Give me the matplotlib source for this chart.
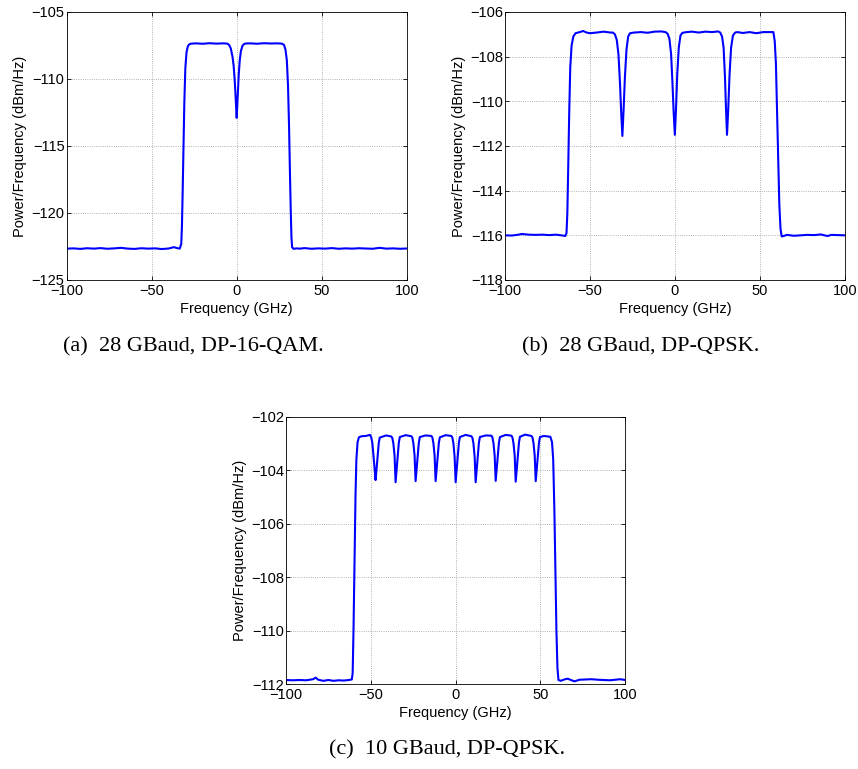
import numpy as np
import matplotlib as mpl
import matplotlib.pyplot as plt

BLUE = "#0000ff"

# (a) 28 GBaud, DP-16-QAM
freq_a = [-100, -96, -92, -88, -84, -80, -76, -72, -68, -64, -60, -56, -52, -48, -44,
          -40, -37, -35, -33.5, -32.6, -32.2, -31.8, -31.3, -30.8, -30.2, -29.5, -28.7,
          -27.8, -26.5, -24, -20, -16, -12, -8, -5.5, -4.5, -3.5, -2.5, -1.8, -1.2, -0.6,
          0, 0.6, 1.2, 1.8, 2.5, 3.5, 4.5, 5.5, 8, 12, 16, 20, 24, 26.5, 27.8, 28.7, 29.5,
          30.2, 30.8, 31.3, 31.8, 32.2, 32.6, 33.5, 35, 37, 40, 44, 48, 52, 56, 60, 64,
          68, 72, 76, 80, 84, 88, 92, 96, 100]
psd_a = [-122.66, -122.64, -122.68, -122.63, -122.66, -122.62, -122.67, -122.64, -122.60,
         -122.66, -122.68, -122.63, -122.66, -122.64, -122.69, -122.65, -122.55, -122.62,
         -122.66, -122.30, -121.00, -118.60, -115.20, -111.80, -109.20, -108.00, -107.55,
         -107.40, -107.36, -107.34, -107.37, -107.33, -107.36, -107.34, -107.36, -107.45,
         -107.70, -108.30, -109.00, -110.00, -111.40, -112.90, -111.30, -109.70, -108.60,
         -107.90, -107.50, -107.38, -107.35, -107.34, -107.37, -107.33, -107.35, -107.34,
         -107.36, -107.45, -107.80, -108.60, -110.50, -113.50, -116.80, -119.80, -121.80,
         -122.55, -122.68, -122.64, -122.66, -122.62, -122.67, -122.64, -122.66, -122.62,
         -122.67, -122.64, -122.66, -122.63, -122.65, -122.67, -122.60, -122.66, -122.64,
         -122.67, -122.65]

# (b) 28 GBaud, DP-QPSK
freq_b = [-100, -96, -92, -90, -86, -82, -78, -74, -70, -66, -64.5, -63.8, -63.3, -62.8,
          -62.2, -61.6, -60.8, -59.8, -58.5, -56, -54, -52, -50, -46, -42, -38, -36.5,
          -35.3, -34.2, -33.2, -32.3, -31.6, -30.9, -30.2, -29.4, -28.5, -27.5, -26.4, -24,
          -20, -16, -12, -8, -5.5, -4.3, -3.2, -2.2, -1.4, -0.7, 0, 0.7, 1.4, 2.3, 3.3,
          4.5, 7, 10, 14, 18, 22, 25.5, 26.7, 27.8, 28.7, 29.5, 30.1, 30.7, 31.4, 32.2,
          33.1, 34.2, 35.5, 37, 40, 44, 48, 52, 56, 58, 58.8, 59.5, 60, 60.8, 61.5, 62.2,
          62.9, 64, 66, 70, 74, 78, 82, 86, 88, 90, 92, 96, 100]
psd_b = [-116.00, -116.01, -115.97, -115.94, -115.97, -115.98, -115.97, -115.99, -115.97,
         -116.01, -116.03, -115.90, -115.00, -113.00, -110.50, -108.50, -107.50, -107.10,
         -106.95, -106.90, -106.85, -106.92, -106.95, -106.92, -106.88, -106.92, -106.92,
         -107.00, -107.25, -107.90, -109.20, -110.50, -111.55, -110.40, -108.90, -107.70,
         -107.10, -106.95, -106.92, -106.90, -106.93, -106.88, -106.87, -106.90, -106.97,
         -107.20, -107.90, -109.20, -110.50, -111.50, -110.30, -108.80, -107.60, -107.05,
         -106.93, -106.90, -106.88, -106.92, -106.88, -106.90, -106.87, -106.92, -107.10,
         -107.60, -108.90, -110.30, -111.50, -110.40, -108.80, -107.60, -107.05, -106.92,
         -106.90, -106.94, -106.90, -106.95, -106.90, -106.90, -106.90, -107.30, -108.30,
         -109.90, -112.40, -114.60, -115.70, -116.05, -116.03, -115.98, -116.02, -116.00,
         -115.98, -115.99, -115.96, -116.00, -116.03, -115.98, -115.99, -116.00]

# (c) 10 GBaud, DP-QPSK
freq_c = [-100, -96, -92, -88, -84, -82.5, -81, -78, -75, -72, -69, -66, -63, -61.2,
          -60.7, -60.2, -59.8, -59.4, -59.0, -58.5, -57.8, -57.0, -55.5, -53, -50.4,
          -49.7, -49.1, -48.5, -47.8, -47.2, -46.6, -45.9, -45.3, -44.7, -41, -37.9,
          -37.3, -36.7, -36.0, -35.4, -34.8, -34.1, -33.5, -32.9, -29.5, -26.1, -25.5,
          -24.9, -24.2, -23.6, -23.0, -22.3, -21.7, -21.1, -17.7, -14.3, -13.7, -13.1,
          -12.4, -11.8, -11.2, -10.5, -9.9, -9.3, -5.9, -2.5, -1.9, -1.3, -0.6, 0, 0.6,
          1.3, 1.9, 2.5, 5.9, 9.3, 9.9, 10.5, 11.2, 11.8, 12.4, 13.1, 13.7, 14.3, 17.7,
          21.1, 21.7, 22.3, 23.0, 23.6, 24.2, 24.9, 25.5, 26.1, 29.5, 32.9, 33.5, 34.1,
          34.8, 35.4, 36.0, 36.7, 37.3, 37.9, 41, 44.7, 45.3, 45.9, 46.6, 47.2, 47.8,
          48.5, 49.1, 49.7, 52, 55.8, 56.8, 57.5, 58.2, 58.8, 59.4, 60.0, 60.6, 62, 64,
          66, 68, 70, 73, 76, 80, 84, 88, 91, 94, 97, 100]
psd_c = [-111.85, -111.86, -111.85, -111.86, -111.82, -111.76, -111.84, -111.88, -111.85,
         -111.88, -111.86, -111.87, -111.85, -111.83, -111.60, -110.00, -108.30, -106.50,
         -104.90, -103.60, -102.95, -102.77, -102.73, -102.72, -102.68,
         -102.78, -102.98, -103.40, -103.95, -104.37, -103.95, -103.40, -102.98, -102.78,
         -102.70, -102.74, -102.80, -103.00, -103.45, -104.45, -103.98, -103.42, -102.98,
         -102.76, -102.69, -102.73, -102.79, -103.00, -103.45, -104.41, -103.96, -103.42,
         -102.98, -102.76, -102.70, -102.72, -102.78, -102.99, -103.45, -104.41, -103.95,
         -103.40, -102.98, -102.77, -102.69, -102.72, -102.79, -103.00, -103.50, -104.45,
         -103.98, -103.42, -102.98, -102.76, -102.68, -102.73, -102.79, -103.00, -103.50,
         -104.45, -103.98, -103.42, -102.98, -102.76, -102.70, -102.71, -102.78, -102.99,
         -103.45, -104.40, -103.95, -103.40, -102.98, -102.76, -102.68, -102.71, -102.78,
         -103.00, -103.45, -104.43, -103.96, -103.42, -102.98, -102.75, -102.67, -102.72,
         -102.78, -102.99, -103.45, -104.41, -103.95, -103.40, -102.98, -102.76, -102.72,
         -102.75, -102.95, -103.60, -105.50, -107.80, -110.00, -111.40, -111.85, -111.88,
         -111.83, -111.80, -111.85, -111.90, -111.84, -111.83, -111.82, -111.84, -111.85,
         -111.86, -111.84, -111.82, -111.85]

mpl.rcParams.update({
    "font.family": "sans-serif",
    "font.sans-serif": ["Liberation Sans", "Arial", "DejaVu Sans"],
    "font.size": 10.5,
    "axes.linewidth": 0.6,
    "xtick.direction": "in", "ytick.direction": "in",
    "xtick.top": True, "ytick.right": True,
    "xtick.major.size": 3, "ytick.major.size": 3,
    "xtick.major.width": 0.6, "ytick.major.width": 0.6,
    "xtick.major.pad": 3, "ytick.major.pad": 1.5,
})


def spectrum(ax, f, p, ylim, yticks):
    ax.plot(f, p, color=BLUE, lw=1.5)
    ax.set_xlim(-100, 100)
    ax.set_ylim(*ylim)
    ax.set_xticks([-100, -50, 0, 50, 100])
    ax.set_yticks(yticks)
    ax.grid(True, ls=":", color="#999999", lw=0.6)
    ax.set_xlabel("Frequency (GHz)", labelpad=2.5)
    ax.set_ylabel("Power/Frequency (dBm/Hz)", labelpad=3)


fig = plt.figure(figsize=(8.58, 7.69), dpi=100)
ax_a = fig.add_axes([0.0777, 0.6359, 0.3963, 0.3485])
ax_b = fig.add_axes([0.5886, 0.6359, 0.3959, 0.3485])
ax_c = fig.add_axes([0.3333, 0.1105, 0.3955, 0.3476])

spectrum(ax_a, freq_a, psd_a, (-125, -105), [-125, -120, -115, -110, -105])
spectrum(ax_b, freq_b, psd_b, (-118, -106), [-118, -116, -114, -112, -110, -108, -106])
spectrum(ax_c, freq_c, psd_c, (-112, -102), [-112, -110, -108, -106, -104, -102])

cap = dict(family="Liberation Serif", fontsize=16, ha="center", va="center")
fig.text(193 / 858, 1 - 347 / 769, "(a)  28 GBaud, DP-16-QAM.", **cap)
fig.text(641 / 858, 1 - 347 / 769, "(b)  28 GBaud, DP-QPSK.", **cap)
fig.text(447 / 858, 1 - 750 / 769, "(c)  10 GBaud, DP-QPSK.", **cap)

fig.savefig("out.png", dpi=100, facecolor="white")
